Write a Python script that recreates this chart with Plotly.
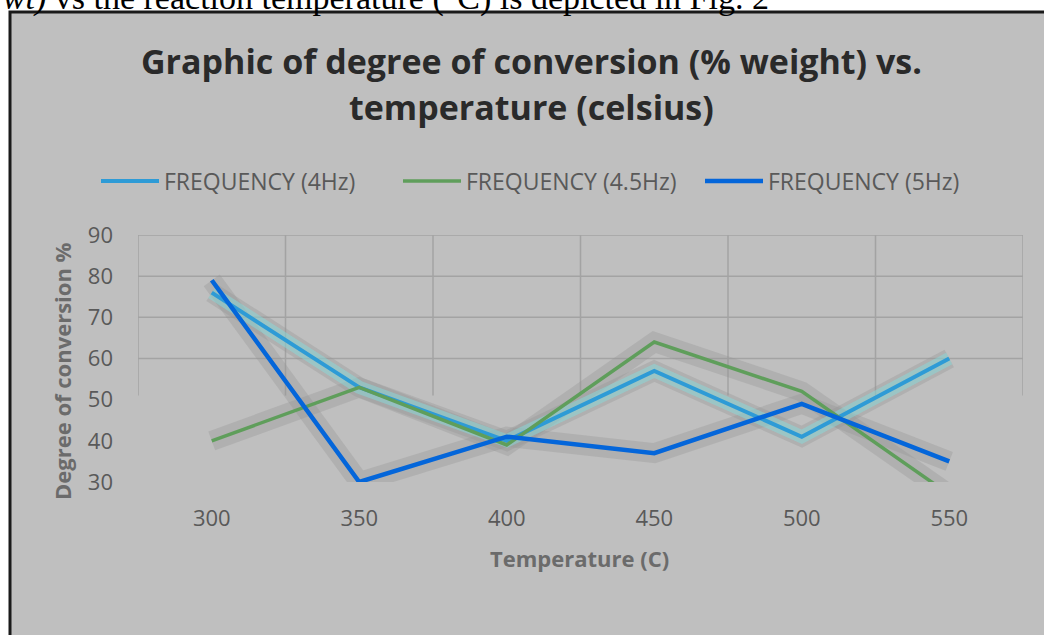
import plotly.graph_objects as go

temperature = [300, 350, 400, 450, 500, 550]
freq_4hz = [76, 53, 40, 57, 41, 60]
freq_45hz = [40, 53, 39, 64, 52, 27]
freq_5hz = [79, 30, 41, 37, 49, 35]
series_names = ["FREQUENCY (4Hz)", "FREQUENCY (4.5Hz)", "FREQUENCY (5Hz)"]
y_ticks = [30, 40, 50, 60, 70, 80, 90]

W, H = 1044, 635
px_x = lambda p: p / W
px_y = lambda p: 1 - p / H

colors = ["#2E9BD6", "#5F9E5B", "#0466DA"]
widths = [4, 3.5, 4.5]
data = [freq_4hz, freq_45hz, freq_5hz]

fig = go.Figure()

# shadow / glow effects under the lines
for vals in data:
    fig.add_trace(go.Scatter(x=temperature, y=vals, mode="lines",
                             line=dict(color="rgba(150,150,150,0.35)", width=20),
                             showlegend=False, hoverinfo="skip"))
fig.add_trace(go.Scatter(x=temperature, y=freq_4hz, mode="lines",
                         line=dict(color="rgba(130,225,225,0.45)", width=13),
                         showlegend=False, hoverinfo="skip"))

for name, vals, c, w in zip(series_names, data, colors, widths):
    fig.add_trace(go.Scatter(x=temperature, y=vals, mode="lines", name=name,
                             line=dict(color=c, width=w)))

shapes = [
    dict(type="rect", xref="paper", yref="paper", x0=px_x(10), x1=1.05,
         y0=-0.1, y1=px_y(12), fillcolor="#BFBFBF",
         line=dict(color="#1a1a1a", width=3), layer="below"),
]
# gridlines
grid = dict(color="#A3A3A3", width=1.5)
for v in [60, 70, 80, 90]:
    shapes.append(dict(type="line", xref="x", yref="y", x0=275, x1=575, y0=v, y1=v,
                       line=grid, layer="below"))
for xv in [275, 325, 375, 425, 475, 525, 575]:
    shapes.append(dict(type="line", xref="x", yref="y", x0=xv, x1=xv, y0=51, y1=90,
                       line=grid, layer="below"))

fig.update_layout(
    width=W, height=H,
    margin=dict(l=0, r=0, t=0, b=0, autoexpand=False),
    paper_bgcolor="white",
    plot_bgcolor="rgba(0,0,0,0)",
    shapes=shapes,
    font=dict(family="Open Sans", color="#595959"),
    showlegend=True,
    legend=dict(orientation="h", x=px_x(96), y=px_y(181), xanchor="left", yanchor="middle",
                font=dict(size=23, color="#595959"), bgcolor="rgba(0,0,0,0)",
                entrywidth=229, entrywidthmode="pixels", itemwidth=58),
    xaxis=dict(domain=[px_x(138), px_x(1023)], range=[275, 575], tickvals=temperature,
               showgrid=False, zeroline=False, showline=False,
               tickfont=dict(size=22, color="#595959"), ticklabelstandoff=21),
    yaxis=dict(domain=[px_y(482), px_y(235)], range=[30, 90], tickvals=y_ticks,
               showgrid=False, zeroline=False, showline=False,
               tickfont=dict(size=22, color="#595959"), ticklabelstandoff=24),
    annotations=[
        dict(text="<i>% wt)</i> vs the reaction temperature (°C) is depicted in Fig. 2",
             xref="paper", yref="paper", x=px_x(-36), y=px_y(19), xanchor="left",
             yanchor="bottom", showarrow=False,
             font=dict(family="Liberation Serif", size=34, color="black")),
        dict(text="<b>Graphic of degree of conversion (% weight) vs.</b>",
             xref="paper", yref="paper", x=px_x(531), y=px_y(61), xanchor="center",
             yanchor="middle", showarrow=False,
             font=dict(family="Open Sans", size=34, color="#2a2a2a")),
        dict(text="<b>temperature (celsius)</b>",
             xref="paper", yref="paper", x=px_x(531), y=px_y(107), xanchor="center",
             yanchor="middle", showarrow=False,
             font=dict(family="Open Sans", size=34, color="#2a2a2a")),
        dict(text="<b>Degree of conversion %</b>", textangle=-90,
             xref="paper", yref="paper", x=px_x(62), y=px_y(371), xanchor="center",
             yanchor="middle", showarrow=False,
             font=dict(family="Open Sans", size=22, color="#6b6b6b")),
        dict(text="<b>Temperature (C)</b>",
             xref="paper", yref="paper", x=px_x(579), y=px_y(558), xanchor="center",
             yanchor="middle", showarrow=False,
             font=dict(family="Open Sans", size=22, color="#6b6b6b")),
    ],
)

fig.write_html("out.html")
